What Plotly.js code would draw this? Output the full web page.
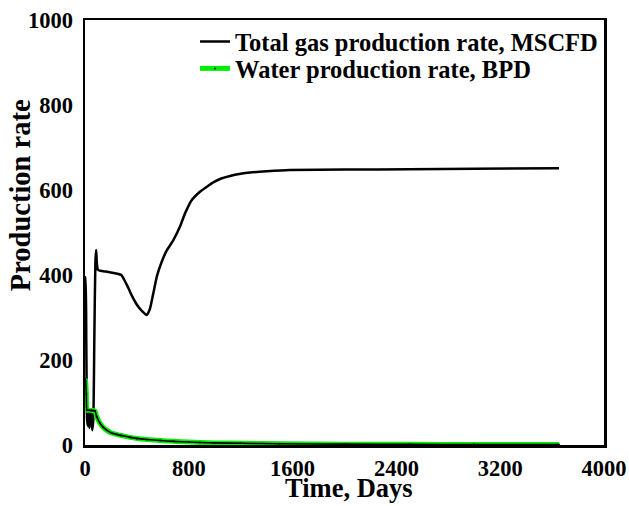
<!DOCTYPE html>
<html>
<head>
<meta charset="utf-8">
<script src="https://cdn.plot.ly/plotly-3.0.1.min.js"></script>
<style>
  html, body { margin: 0; padding: 0; background: #fff; }
  #chart { width: 629px; height: 506px; }
</style>
</head>
<body>
<div id="chart"></div>
<script>
// Gas production rate (MSCFD) over time
const gasDays = [0, 5, 10, 16, 22, 28, 34, 40, 48, 56,
  64, 72, 80, 86, 92, 100, 120, 160, 200, 250,
  280, 300, 330, 360, 400, 440, 475, 500, 525, 555,
  590, 625, 681, 732, 771, 822, 886, 950, 989, 1050,
  1118, 1200, 1272, 1400, 1580, 2000, 2500, 3000, 3653];
const gasRate = [390, 395, 240, 60, 45, 78, 40, 75, 70, 35,
  60, 250, 430, 459, 425, 412, 410, 408, 406, 403,
  400, 390, 372, 352, 330, 315, 306, 320, 355, 398,
  430, 455, 482, 514, 545, 576, 596, 610, 618, 627,
  633, 638, 641, 644, 647, 648, 649, 650, 651];

// Water production rate (BPD) over time
const waterDays = [0, 5, 10, 15, 30, 50, 65, 77, 90, 116,
  140, 167, 200, 244, 300, 347, 400, 475, 580, 680,
  800, 886, 1000, 1200, 1500, 2000, 2500, 3000, 3653];
const waterRate = [155, 150, 120, 82, 82, 81, 81, 80, 67, 51,
  42, 35, 29, 25, 21, 18, 15.5, 13, 10.5, 8.6,
  7, 6, 5, 4, 3, 2, 1.5, 1.2, 1];

const xTicks = [0, 800, 1600, 2400, 3200, 4000];
const yTicks = [0, 200, 400, 600, 800, 1000];

const serif = 'Liberation Serif, Times New Roman, serif';

const traces = [
  {
    x: gasDays, y: gasRate, mode: 'lines', name: 'Total gas production rate, MSCFD',
    legend: 'legend',
    line: { color: '#000000', width: 2.5, shape: 'spline', smoothing: 0.5 }
  },
  {
    x: waterDays, y: waterRate, mode: 'lines+markers', name: 'Water production rate, BPD',
    legend: 'legend2',
    line: { color: '#00ee00', width: 5, shape: 'spline', smoothing: 0.5 },
    marker: { color: '#000000', size: 2 }
  },
  {
    // thin dark trace running along the water curve
    x: waterDays, y: waterRate, mode: 'lines', showlegend: false, hoverinfo: 'skip',
    line: { color: '#000000', width: 1.6, shape: 'spline', smoothing: 0.5 }
  }
];

const tickFont = { family: serif, size: 22.5, color: '#000' };
const legendFont = { family: serif, size: 24.5, color: '#000', weight: 700 };

const legendBase = {
  xanchor: 'left', yanchor: 'middle',
  bgcolor: 'rgba(0,0,0,0)', borderwidth: 0,
  font: legendFont
};

const bold = v => '<b>' + v + '</b>';

const layout = {
  width: 629, height: 506,
  margin: { l: 85, r: 25, t: 20, b: 61 },
  paper_bgcolor: '#fff', plot_bgcolor: '#fff',
  showlegend: true,
  legend: Object.assign({ x: 0.212, y: 0.949 }, legendBase),
  legend2: Object.assign({ x: 0.212, y: 0.886 }, legendBase),
  xaxis: {
    range: [0, 4000], tickvals: xTicks, ticktext: xTicks.map(bold),
    showgrid: false, zeroline: false, ticks: '',
    showline: true, mirror: true, linecolor: '#000', linewidth: 2.5,
    tickfont: tickFont, ticklabelstandoff: 1
  },
  yaxis: {
    range: [0, 1000], tickvals: yTicks, ticktext: yTicks.map(bold),
    showgrid: false, zeroline: false, ticks: '',
    showline: true, mirror: true, linecolor: '#000', linewidth: 2.5,
    tickfont: tickFont, ticklabelstandoff: 5
  },
  annotations: [
    {
      // x-axis title
      text: '<b>Time, Days</b>', xref: 'paper', yref: 'paper',
      x: 0.509, y: -0.141, xanchor: 'center', yanchor: 'bottom', showarrow: false,
      font: { family: serif, size: 26.5, color: '#000' }
    },
    {
      // y-axis title
      text: '<b>Production rate</b>', xref: 'paper', yref: 'paper', textangle: -90,
      x: -0.125, y: 0.588, xanchor: 'center', yanchor: 'middle', showarrow: false,
      font: { family: serif, size: 28.5, color: '#000' }
    }
  ]
};

Plotly.newPlot('chart', traces, layout, { staticPlot: true, displayModeBar: false });
</script>
</body>
</html>
